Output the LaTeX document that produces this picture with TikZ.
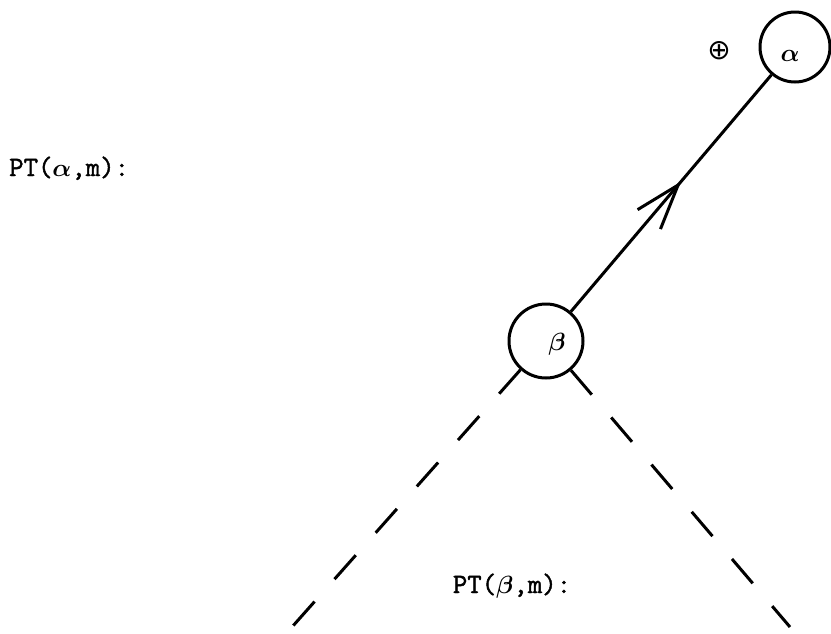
\documentclass[tikz,border=0pt]{standalone}
\usepackage{fontspec}
\usepackage{bm}
\newfontfamily\tyfont{Latin Modern Mono}[FakeBold=1.6]
\newfontfamily\symfont{DejaVu Sans}
\usetikzlibrary{arrows.meta,decorations.markings,calc}
\begin{document}
\begin{tikzpicture}[x=1pt,y=-1pt,
  every node/.style={font=\fontsize{28}{30}\selectfont\tyfont},
  circ/.style={circle,draw,line width=3pt,inner sep=0pt},
  lbl/.style={inner sep=0pt},
  edge/.style={line width=3pt},
  dashedge/.style={line width=3pt,dash pattern=on 32pt off 30pt}]
\useasboundingbox (0,0) rectangle (831,633);
\node[circ,minimum size=70pt] (a) at (795,47) {};
\node[circ,minimum size=74pt] (b) at (546,341) {};
\node[lbl] (al) at (790,56) {$\bm{\alpha}$};
\node[lbl] (bl) at (557,344) {$\bm{\beta}$};
\node[lbl,font=\fontsize{28}{28}\selectfont\symfont] (op) at (719,51) {⊕};
\node[lbl,anchor=base west] (pta) at (9,176) {PT($\bm{\alpha}$,m):};
\node[lbl,anchor=base] (ptb) at (512,593) {PT($\bm{\beta}$,m):};
\coordinate (le) at (292,627);
\coordinate (re) at (790,627);
\draw[edge,postaction={decorate},decoration={markings,
  mark=at position 0.55 with {\arrow{Straight Barb[length=45pt,width=30pt,line width=3pt]}}}]
  (b) -- (a);
\draw[dashedge] (b) -- (le);
\draw[dashedge] (b) -- (re);
\end{tikzpicture}
\end{document}
